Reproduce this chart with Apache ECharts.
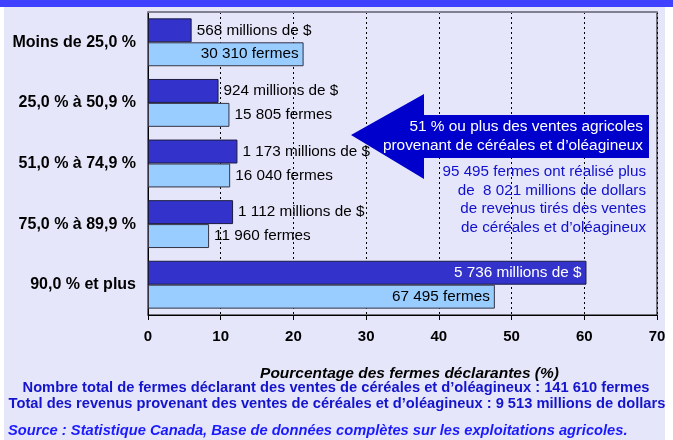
<!DOCTYPE html>
<html>
<head>
<meta charset="utf-8">
<script src="https://cdn.jsdelivr.net/npm/echarts@6/dist/echarts.min.js"></script>
<style>
  html, body { margin: 0; padding: 0; background: #fff; }
  #myChart { width: 673px; height: 440px; }
</style>
</head>
<body>
<div id="myChart"></div>
<script>
// catégories (de haut en bas)
var categories = ['Moins de 25,0 %', '25,0 % à 50,9 %', '51,0 % à 74,9 %', '75,0 % à 89,9 %', '90,0 % et plus'];
// % des revenus et % des fermes (longueur des barres)
var revenuePct = [6.0, 9.7, 12.3, 11.7, 60.3];
var farmsPct = [21.4, 11.2, 11.3, 8.4, 47.7];
// valeurs affichées en étiquette
var revenueMillions = [568, 924, 1173, 1112, 5736];
var farmsCount = [30310, 15805, 16040, 11960, 67495];
var xTicks = [0, 10, 20, 30, 40, 50, 60, 70];

var revenueLabelPos = ['right', 'right', 'right', 'right', 'insideRight'];
var farmsLabelPos = ['insideRight', 'right', 'right', 'right', 'insideRight'];

function fmt(n) {
  return String(n).replace(/\B(?=(\d{3})+(?!\d))/g, ' ');
}

var font = 'Liberation Sans, Arial, sans-serif';
var chart = echarts.init(document.getElementById('myChart'));

chart.setOption({
  animation: false,
  backgroundColor: '#ffffff',
  graphic: [
    // fond lavande + bandeau bleu
    { type: 'rect', z: -10, shape: { x: 4, y: 0, width: 661, height: 440 }, style: { fill: '#e6e6fa' } },
    { type: 'rect', z: -9, shape: { x: 0, y: 0, width: 673, height: 7 }, style: { fill: '#4040ff' } },
    // flèche
    {
      type: 'polygon', z: 100,
      shape: { points: [[351, 135], [424, 94], [424, 115], [649, 115], [649, 158], [424, 158], [424, 179]] },
      style: { fill: '#0000cc' }
    },
    { type: 'text', z: 101, x: 643, y: 127, style: { text: '51 % ou plus des ventes agricoles', fill: '#fff', font: '15.4px ' + font, align: 'right', verticalAlign: 'middle' } },
    { type: 'text', z: 101, x: 643, y: 146, style: { text: 'provenant de céréales et d\u2019oléagineux', fill: '#fff', font: '15.4px ' + font, align: 'right', verticalAlign: 'middle' } },
    {
      type: 'text', z: 101, x: 646, y: 163,
      style: {
        text: '95 495 fermes ont réalisé plus\nde  8 021 millions de dollars\nde revenus tirés des ventes\nde céréales et d\u2019oléagineux',
        fill: '#1010cc', font: '15.2px ' + font, align: 'right', lineHeight: 18.4
      }
    },
    // notes du bas
    { type: 'text', x: 336, y: 388, style: { text: 'Nombre total de fermes déclarant des ventes de céréales et d\u2019oléagineux : 141 610 fermes', fill: '#1414cc', font: 'bold 14.7px ' + font, align: 'center', verticalAlign: 'middle' } },
    { type: 'text', x: 337, y: 404, style: { text: 'Total des revenus provenant des ventes de céréales et d\u2019oléagineux : 9 513 millions de dollars', fill: '#1414cc', font: 'bold 14.7px ' + font, align: 'center', verticalAlign: 'middle' } },
    { type: 'text', x: 8, y: 431, style: { text: 'Source : Statistique Canada, Base de données complètes sur les exploitations agricoles.', fill: '#1a1aff', font: 'italic bold 14.7px ' + font, verticalAlign: 'middle' } }
  ],
  grid: {
    left: 148, right: 16, top: 12, bottom: 125,
    show: true, backgroundColor: 'transparent', borderColor: '#000', borderWidth: 1
  },
  xAxis: [{
    type: 'value', min: 0, max: 70, interval: 10,
    axisLine: { show: true, lineStyle: { color: '#000', width: 1 } },
    axisTick: { show: true, length: 5, lineStyle: { color: '#000' } },
    axisLabel: {
      margin: 14, color: '#000', fontWeight: 'bold', fontSize: 15, fontFamily: font,
      formatter: function (v) { return xTicks.indexOf(v) >= 0 ? String(v) : ''; }
    },
    splitLine: { show: true, lineStyle: { color: '#000', type: [2, 3], width: 1 } },
    name: 'Pourcentage des fermes déclarantes (%)',
    nameLocation: 'middle', nameGap: 51,
    nameTextStyle: { color: '#000', fontWeight: 'bold', fontStyle: 'italic', fontSize: 15.5, fontFamily: font, padding: [0, 0, 0, 14] }
  }, {
    type: 'value', min: 0, max: 70, position: 'top',
    axisLine: { show: true, lineStyle: { color: '#808090', width: 2 } },
    axisTick: { show: false }, axisLabel: { show: false }, splitLine: { show: false }
  }],
  yAxis: {
    type: 'category', inverse: true, data: categories,
    axisLine: { show: true, lineStyle: { color: '#000' } },
    axisTick: { show: false },
    axisLabel: { margin: 12, color: '#000', fontWeight: 'bold', fontSize: 16, fontFamily: font }
  },
  series: [{
    name: 'Revenus', type: 'bar', barGap: '0%', barCategoryGap: '21%',
    itemStyle: { color: '#3333cc', borderColor: '#1a1a40', borderWidth: 1 },
    data: revenuePct.map(function (v, i) {
      return {
        value: v,
        label: {
          show: true, position: revenueLabelPos[i], distance: 5,
          color: revenueLabelPos[i] === 'insideRight' ? '#fff' : '#000',
          fontSize: 15.3, fontFamily: font,
          formatter: fmt(revenueMillions[i]) + ' millions de $'
        }
      };
    })
  }, {
    name: 'Fermes', type: 'bar', barGap: '0%', barCategoryGap: '21%',
    itemStyle: { color: '#99ccff', borderColor: '#333344', borderWidth: 1 },
    data: farmsPct.map(function (v, i) {
      return {
        value: v,
        label: {
          show: true, position: farmsLabelPos[i], distance: 5,
          color: '#000', fontSize: 15.3, fontFamily: font,
          formatter: fmt(farmsCount[i]) + ' fermes'
        }
      };
    })
  }]
});
</script>
</body>
</html>
